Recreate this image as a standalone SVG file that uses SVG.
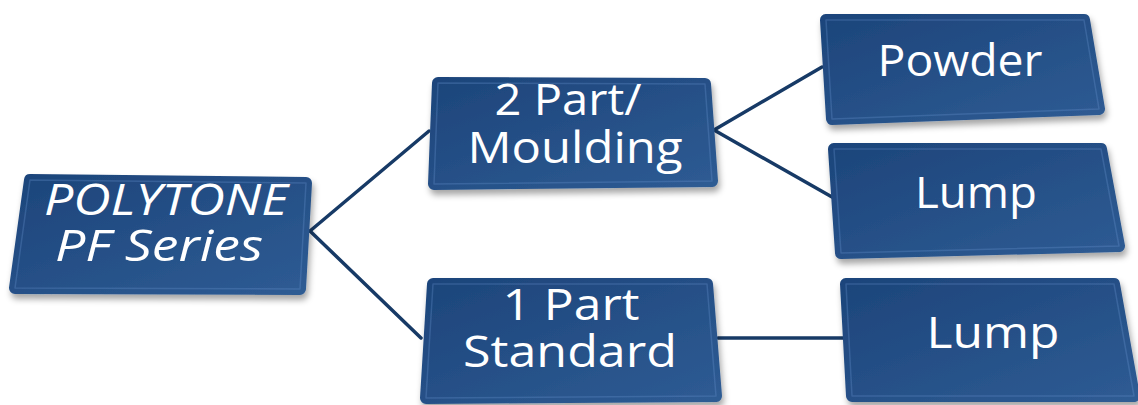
<svg xmlns="http://www.w3.org/2000/svg" width="1138" height="405" viewBox="0 0 1138 405">
  <defs>
    <linearGradient id="boxFill" x1="0" y1="0" x2="1" y2="1">
      <stop offset="0" stop-color="#1d457b"/>
      <stop offset="1" stop-color="#2e5b93"/>
    </linearGradient>
    <filter id="shadow" x="-10%" y="-10%" width="120%" height="130%">
      <feDropShadow dx="2" dy="5" stdDeviation="3" flood-color="#000" flood-opacity="0.35"/>
    </filter>
    <style>
      .box { fill: url(#boxFill); stroke: url(#boxFill); stroke-width: 12; stroke-linejoin: round; filter: url(#shadow); }
      .bevel { fill: none; stroke: #6a96cf; stroke-width: 1.5; stroke-opacity: 0.3; stroke-linejoin: round; }
      .label { fill: #ffffff; font-family: "Open Sans", "Noto Sans", sans-serif; font-size: 44px; text-anchor: middle; }
      .italic { font-style: italic; }
      .conn { stroke: #173a66; stroke-width: 3.5; fill: none; stroke-linecap: round; }
    </style>
  </defs>
  <rect width="1138" height="405" fill="#ffffff"/>

  <g id="connectors">
    <line class="conn" x1="310" y1="231" x2="429" y2="131"/>
    <line class="conn" x1="310" y1="231" x2="421" y2="338"/>
    <line class="conn" x1="714" y1="130" x2="822" y2="67"/>
    <line class="conn" x1="714" y1="130" x2="832" y2="197"/>
    <line class="conn" x1="718" y1="338" x2="843" y2="338"/>
  </g>

  <g id="node-root">
    <polygon class="box" points="30,180 306,183 300,289 15,288"/>
    <polygon class="bevel" points="30,180 306,183 300,289 15,288"/>
    <text class="label italic" x="166" y="215" textLength="244" lengthAdjust="spacingAndGlyphs">POLYTONE</text>
    <text class="label italic" x="159" y="261" textLength="208" lengthAdjust="spacingAndGlyphs">PF Series</text>
  </g>

  <g id="node-2part">
    <polygon class="box" points="438,83 705,84 712,181 434,184"/>
    <polygon class="bevel" points="438,83 705,84 712,181 434,184"/>
    <text class="label" x="568" y="115" textLength="147" lengthAdjust="spacingAndGlyphs">2 Part/</text>
    <text class="label" x="575" y="163" textLength="215" lengthAdjust="spacingAndGlyphs">Moulding</text>
  </g>

  <g id="node-powder">
    <polygon class="box" points="826,20 1084,20 1099,109 832,119"/>
    <polygon class="bevel" points="826,20 1084,20 1099,109 832,119"/>
    <text class="label" x="960" y="76" textLength="165" lengthAdjust="spacingAndGlyphs">Powder</text>
  </g>

  <g id="node-lump1">
    <polygon class="box" points="834,149 1101,149 1119,246 841,253"/>
    <polygon class="bevel" points="834,149 1101,149 1119,246 841,253"/>
    <text class="label" x="976" y="208" textLength="122" lengthAdjust="spacingAndGlyphs">Lump</text>
  </g>

  <g id="node-1part">
    <polygon class="box" points="433,284 707,284 716,396 426,398"/>
    <polygon class="bevel" points="433,284 707,284 716,396 426,398"/>
    <text class="label" x="571" y="320" textLength="137" lengthAdjust="spacingAndGlyphs">1 Part</text>
    <text class="label" x="570" y="367" textLength="214" lengthAdjust="spacingAndGlyphs">Standard</text>
  </g>

  <g id="node-lump2">
    <polygon class="box" points="846,284 1114,284 1134,396 852,396"/>
    <polygon class="bevel" points="846,284 1114,284 1134,396 852,396"/>
    <text class="label" x="993" y="348" textLength="133" lengthAdjust="spacingAndGlyphs">Lump</text>
  </g>
</svg>
